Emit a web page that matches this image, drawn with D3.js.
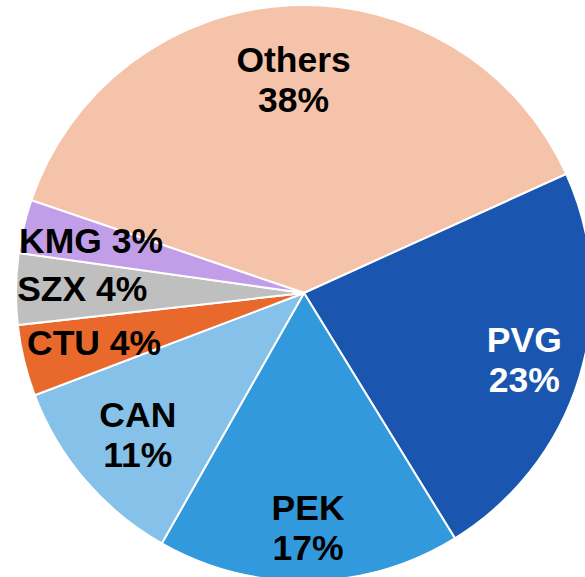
<!DOCTYPE html>
<html>
<head>
<meta charset="utf-8">
<script src="https://cdn.jsdelivr.net/npm/d3@7"></script>
<style>
  body { margin: 0; background: #fff; }
  text { font-family: "Liberation Sans", Arial, sans-serif; font-weight: bold; }
</style>
</head>
<body>
<script>
// airport share, clockwise from the Others slice
let airports = ["Others", "PVG", "PEK", "CAN", "CTU", "SZX", "KMG"];
let shares = [38, 23, 17, 11, 4, 4, 3];
let colors = ["#F5C3A9", "#1A55B0", "#3399DD", "#85C1E8", "#E8692B", "#BFBFBF", "#C39EE8"];
let textColors = ["#000", "#fff", "#000", "#000", "#000", "#000", "#000"];
// two-line labels for the big slices, one line for the small ones
let twoLine = [true, true, true, true, false, false, false];
// how far out each label sits (fraction of radius)
let labelPos = [0.74, 0.80, 0.815, 0.76, 0.75, 0.77, 0.76];

let width = 585, height = 577;
let cx = 304, cy = 293, radius = 288;

let data = airports.map(function(a, i){
  return { name: a, value: shares[i], i: i };
});

let viz = d3.select("body")
  .append("svg")
    .attr("width", width)
    .attr("height", height)
;

let g = viz.append("g").attr("transform", "translate(" + cx + "," + cy + ")");

let pie = d3.pie()
  .sort(null)
  .value(d => d.value)
  .startAngle(-71.2 * Math.PI / 180)
  .endAngle((360 - 71.2) * Math.PI / 180)
;

let arc = d3.arc().innerRadius(0).outerRadius(radius);

let slices = pie(data);

g.selectAll("path").data(slices)
  .enter()
    .append("path")
    .attr("d", arc)
    .attr("fill", d => colors[d.data.i])
    .attr("stroke", "#fff")
    .attr("stroke-width", 2)
;

function labelXY(d){
  let r = radius * labelPos[d.data.i];
  let a = (d.startAngle + d.endAngle) / 2;
  return [Math.sin(a) * r, -Math.cos(a) * r];
}

let labels = g.selectAll("text.lbl").data(slices)
  .enter()
    .append("text")
    .attr("class", "lbl")
    .attr("text-anchor", "middle")
    .attr("font-size", 35.5)
    .attr("fill", d => textColors[d.data.i])
;

labels.each(function(d){
  let p = labelXY(d);
  let t = d3.select(this);
  if (twoLine[d.data.i]) {
    t.append("tspan").attr("x", p[0]).attr("y", p[1] - 8).text(d.data.name);
    t.append("tspan").attr("x", p[0]).attr("y", p[1] + 32).text(d.data.value + "%");
  } else {
    t.append("tspan").attr("x", p[0]).attr("y", p[1] + 11).text(d.data.name + " " + d.data.value + "%");
  }
});
</script>
</body>
</html>
